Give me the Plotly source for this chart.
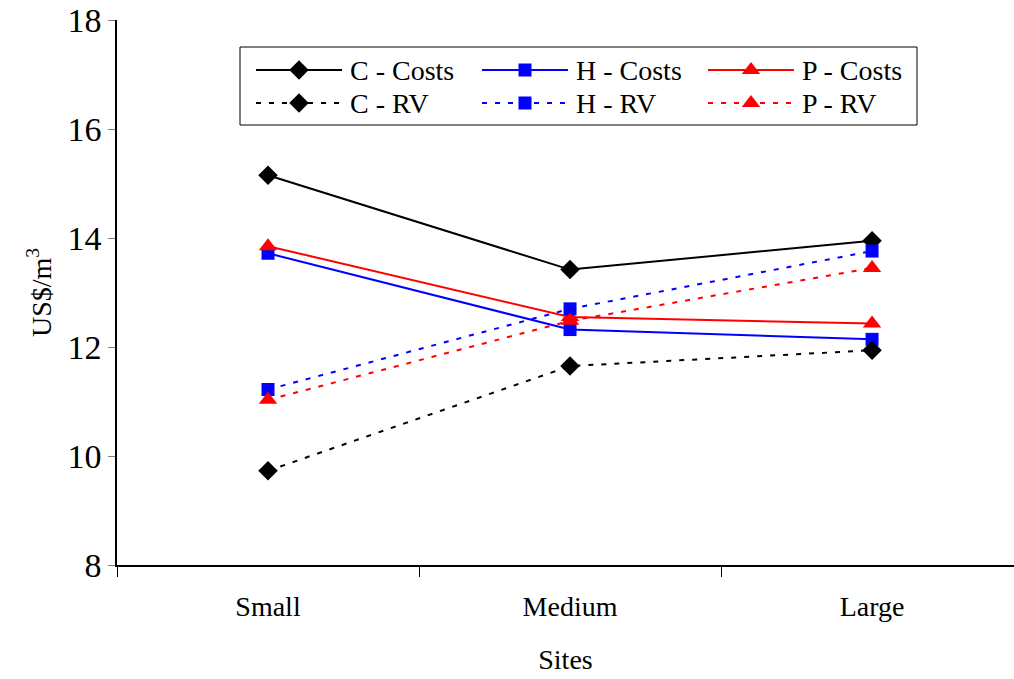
import plotly.graph_objects as go

# Site categories and cost / residual value series (US$/m^3)
sites = ["Small", "Medium", "Large"]
c_costs = [15.15, 13.42, 13.95]
h_costs = [13.72, 12.32, 12.14]
p_costs = [13.85, 12.55, 12.43]
c_rv = [9.73, 11.65, 11.94]
h_rv = [11.22, 12.70, 13.76]
p_rv = [11.03, 12.48, 13.45]

FONT = "Liberation Serif, Times New Roman, serif"
DOT = "5px,8px"
W, H = 1014, 679
ML, MR, MT, MB = 117, 0, 20, 114

series = [
    ("C - Costs", c_costs, "black", "solid", "diamond", 15),
    ("H - Costs", h_costs, "#0000FF", "solid", "square", 13),
    ("P - Costs", p_costs, "#FF0000", "solid", "triangle-up", 16),
    ("C - RV", c_rv, "black", DOT, "diamond", 15),
    ("H - RV", h_rv, "#0000FF", DOT, "square", 13),
    ("P - RV", p_rv, "#FF0000", DOT, "triangle-up", 16),
]

fig = go.Figure()
for name, vals, color, dash, symbol, size in series:
    fig.add_trace(go.Scatter(
        x=sites, y=vals, name=name, mode="lines+markers",
        line=dict(color=color, width=2, dash=dash),
        marker=dict(symbol=symbol, size=size, color=color, opacity=1),
        showlegend=False,
    ))

# Boxed key in a pixel-space overlay: 3 columns x 2 rows
key_cols = [256, 482, 708]
key_rows = [70, 103]
sample_len = 86
annotations = []
for i, (name, vals, color, dash, symbol, size) in enumerate(series):
    x0 = key_cols[i % 3]
    yk = key_rows[i // 3]
    fig.add_trace(go.Scatter(
        x=[x0, x0 + sample_len], y=[yk, yk],
        xaxis="x2", yaxis="y2", mode="lines",
        line=dict(color=color, width=2, dash=dash),
        showlegend=False, hoverinfo="skip",
    ))
    fig.add_trace(go.Scatter(
        x=[x0 + sample_len / 2], y=[yk],
        xaxis="x2", yaxis="y2", mode="markers",
        marker=dict(symbol=symbol, size=size, color=color, opacity=1),
        showlegend=False, hoverinfo="skip",
    ))
    annotations.append(dict(
        x=x0 + sample_len + 6, y=yk, xref="x2", yref="y2",
        text=name, showarrow=False, xanchor="left", yanchor="middle",
        font=dict(family=FONT, size=28, color="black"),
    ))

fig.update_layout(
    width=W, height=H,
    margin=dict(l=ML, r=MR, t=MT, b=MB),
    paper_bgcolor="white", plot_bgcolor="white",
    font=dict(family=FONT, size=28, color="black"),
    showlegend=False,
    annotations=annotations,
    shapes=[dict(
        type="rect", xref="x2", yref="y2", x0=240, x1=917, y0=47, y1=125,
        line=dict(color="black", width=1), fillcolor="white", layer="below",
    )],
    xaxis=dict(
        type="category", range=[-0.5, 2.47],
        showline=True, linecolor="black", linewidth=1.5,
        ticks="outside", ticklen=10, tickcolor="black", tickson="boundaries",
        showgrid=False, zeroline=False,
        ticklabelstandoff=16, tickfont=dict(size=28),
        title=dict(text="Sites", standoff=28, font=dict(size=28)),
    ),
    yaxis=dict(
        range=[8, 18], tickvals=[8, 10, 12, 14, 16, 18],
        showline=True, linecolor="black", linewidth=1.5,
        ticks="outside", ticklen=7, tickcolor="gray",
        showgrid=False, zeroline=False, tickfont=dict(size=34),
        title=dict(text="US$/m<sup>3</sup>", standoff=8, font=dict(size=28)),
    ),
    xaxis2=dict(
        overlaying="x", range=[ML, W - MR], visible=False, fixedrange=True,
    ),
    yaxis2=dict(
        overlaying="y", range=[H - MB, MT], visible=False, fixedrange=True,
    ),
)

fig.write_html("out.html")
